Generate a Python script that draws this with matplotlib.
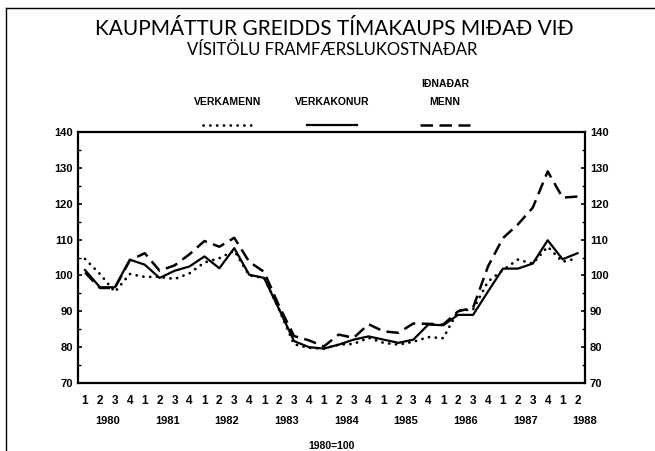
import matplotlib
matplotlib.use("Agg")
import matplotlib.pyplot as plt
from matplotlib.lines import Line2D
from matplotlib.ticker import MultipleLocator
import numpy as np

# Quarterly index of real hourly earnings, 1980=100 (1980 Q1 .. 1988 Q2)
years = ["1980", "1981", "1982", "1983", "1984", "1985", "1986", "1987", "1988"]
quarter_labels = ["1", "2", "3", "4"] * 8 + ["1", "2"]

verkamenn = [104.6, 100.4, 95.4, 100.4, 99.6, 99.6, 99.0, 100.6, 103.6, 104.8,
             106.9, 100.0, 99.3, 90.5, 80.8, 79.8, 79.6, 80.7, 80.9, 82.6,
             81.2, 80.7, 81.5, 82.8, 82.5, 90.2, 90.5, 98.3, 101.5, 104.4,
             103.3, 108.0, 103.8, 104.8]
verkakonur = [101.5, 96.7, 96.7, 104.4, 103.0, 99.3, 101.3, 102.5, 105.3, 102.0,
              107.6, 100.2, 99.3, 90.6, 81.7, 80.0, 79.6, 80.7, 82.1, 83.0,
              82.1, 81.2, 82.1, 86.3, 86.1, 89.0, 89.0, 95.5, 101.9, 101.9,
              103.3, 109.8, 104.5, 106.2]
idnadarmenn = [100.8, 96.5, 96.5, 104.2, 106.2, 101.3, 102.8, 105.9, 109.6, 108.0,
               110.5, 103.8, 101.0, 91.5, 83.1, 81.9, 80.2, 83.5, 82.6, 86.4,
               84.4, 84.0, 86.6, 86.5, 86.3, 90.0, 91.0, 102.5, 110.4, 114.2,
               118.9, 129.0, 121.7, 122.0]

series_names = [["VERKAMENN"], ["VERKAKONUR"], ["IÐNAÐAR", "MENN"]]

LABEL_FONT = ["Liberation Sans", "DejaVu Sans"]
TITLE_FONT = ["Lato", "DejaVu Sans"]
plt.rcParams["font.family"] = ["DejaVu Sans"]

W, H = 655, 451
fig = plt.figure(figsize=(W / 100, H / 100), dpi=100)
fig.patch.set_facecolor("white")


def fx(px):
    return px / W


def fy(py):
    return 1 - py / H


ax = fig.add_axes([fx(78), fy(383), fx(585) - fx(78), fy(132) - fy(383)])

x = np.arange(len(verkakonur))
dot_style = dict(color="black", lw=2.0, linestyle=(0, (0.05, 2.4)),
                 dash_capstyle="round")
solid_style = dict(color="black", lw=1.6, linestyle="-")
dash_style = dict(color="black", lw=1.8, linestyle=(0, (5, 2.6)))

ax.plot(x, verkamenn, **dot_style)
ax.plot(x, verkakonur, **solid_style)
ax.plot(x, idnadarmenn, **dash_style)

ax.set_xlim(-0.47, 33.5)
ax.set_ylim(70, 140)

for s in ax.spines.values():
    s.set_linewidth(1.6)

ax.yaxis.set_major_locator(MultipleLocator(10))
ax.yaxis.set_minor_locator(MultipleLocator(5))
ax.tick_params(axis="y", which="major", direction="in", length=3, width=1.2,
               left=True, right=True, labelleft=True, labelright=True,
               pad=3.5, labelsize=8)
ax.tick_params(axis="y", which="minor", direction="in", length=2, width=1.0,
               left=True, right=True)
for lab in ax.get_yticklabels():
    lab.set_family(LABEL_FONT)
    lab.set_fontweight("bold")

ax.set_xticks(x)
ax.set_xticklabels(quarter_labels)
ax.tick_params(axis="x", length=0, pad=9, labelsize=8.5)
for lab in ax.get_xticklabels():
    lab.set_family(LABEL_FONT)
    lab.set_fontweight("bold")

trans = ax.get_xaxis_transform()
for k, yr in enumerate(years):
    ax.text(4 * k + 1.5, -0.151, yr, transform=trans, ha="center", va="center",
            fontsize=8, family=LABEL_FONT, fontweight="bold")

ax.text(0.5, -0.25, "1980=100", transform=ax.transAxes, ha="center",
        va="center", fontsize=7.5, family=LABEL_FONT, fontweight="bold")

# Titles
fig.text(fx(334), fy(29), "KAUPMÁTTUR GREIDDS TÍMAKAUPS MIÐAÐ VIÐ",
         ha="center", va="center", fontsize=15, family=TITLE_FONT,
         color="black")
fig.text(fx(332), fy(50), "VÍSITÖLU FRAMFÆRSLUKOSTNAÐAR",
         ha="center", va="center", fontsize=12, family=TITLE_FONT,
         color="black")

# Legend block
legend_x = [228, 332, 445]
legend_styles = [dot_style, solid_style, dash_style]
for cx, lines, style in zip(legend_x, series_names, legend_styles):
    for j, line in enumerate(reversed(lines)):
        fig.text(fx(cx), fy(102 - 18 * j), line, ha="center", va="center",
                 fontsize=7.5, family=LABEL_FONT, fontweight="bold")
    fig.add_artist(Line2D([fx(cx - 25), fx(cx + 25)], [fy(125), fy(125)],
                          transform=fig.transFigure, **style))

# Page frame
fig.add_artist(Line2D([fx(6), fx(655)], [fy(8), fy(8)], transform=fig.transFigure,
                      color="black", lw=1.0))
fig.add_artist(Line2D([fx(6), fx(6)], [fy(8), fy(451)], transform=fig.transFigure,
                      color="black", lw=1.0))

fig.savefig("out.png", dpi=100, facecolor="white")
